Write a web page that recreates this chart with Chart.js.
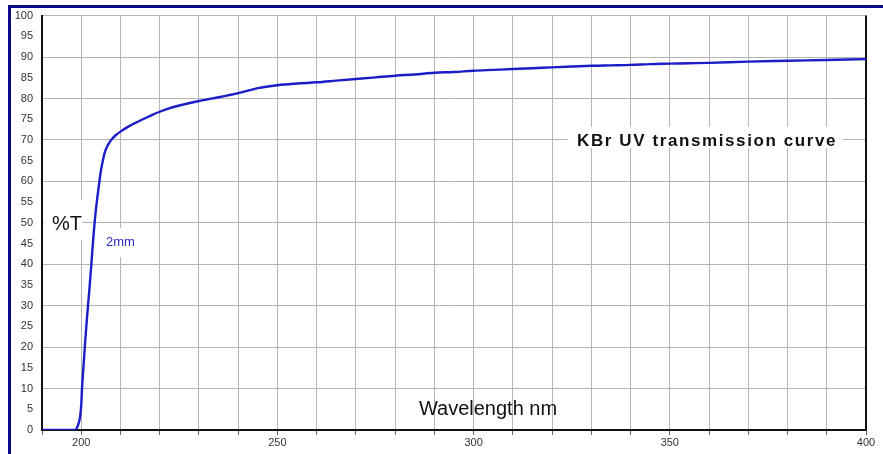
<!DOCTYPE html>
<html>
<head>
<meta charset="utf-8">
<script src="https://cdn.jsdelivr.net/npm/chart.js@4"></script>
<style>
  html, body { margin: 0; padding: 0; background: #fff; }
  #wrap { width: 883px; height: 454px; position: relative; }
</style>
</head>
<body>
<div id="wrap"><canvas id="kbrChart"></canvas></div>
<script>
// KBr UV transmission, 2mm thick
const wavelength = [190, 196, 198.4, 199, 199.5, 199.7, 200, 200.2, 200.5, 201, 201.5, 202, 202.5, 203, 203.5, 204, 204.5, 205,
  205.5, 206, 206.5, 207, 208, 209, 210, 212, 214, 216, 218, 220, 222, 225, 230, 235, 240, 243, 245, 250, 255,
  260, 265, 270, 275, 280, 285, 290, 295, 300, 305, 310, 315, 320, 325, 330, 335, 340, 345, 350, 355, 360,
  370, 380, 390, 400];
const transmission = [0, 0, 0, 0.7, 2.2, 3.2, 6, 10, 14.3, 21.3, 27.5, 33, 39, 45.5, 51, 55.3, 59, 62.5,
  65, 67, 68.2, 69.1, 70.4, 71.3, 72, 73.2, 74.2, 75.1, 76, 76.8, 77.5, 78.3, 79.4, 80.3, 81.3, 82, 82.5, 83.2, 83.6,
  83.9, 84.3, 84.7, 85.1, 85.5, 85.8, 86.2, 86.4, 86.7, 86.9, 87.1, 87.3, 87.5, 87.7, 87.9, 88.0, 88.1, 88.3, 88.4, 88.5, 88.6,
  88.9, 89.1, 89.3, 89.5];
const xLabels = [200, 250, 300, 350, 400];

const FONT = '"Liberation Sans", Arial, sans-serif';

// frame, right axis line and the text boxes
const decorPlugin = {
  id: "decor",
  beforeDatasetsDraw(chart) {
    const ctx = chart.ctx;
    const area = chart.chartArea;
    ctx.save();
    ctx.fillStyle = "#fff";
    ctx.fillRect(44, 200, 38, 40);   // %T
    ctx.fillRect(100, 228, 40, 29);  // 2mm
    ctx.fillRect(568, 127, 275, 21); // title
    ctx.strokeStyle = "#111";
    ctx.lineWidth = 2;
    ctx.beginPath();
    ctx.moveTo(area.right, area.top);
    ctx.lineTo(area.right, area.bottom + 1);
    ctx.stroke();
    ctx.restore();
  },
  afterDraw(chart) {
    const ctx = chart.ctx;
    ctx.save();
    ctx.strokeStyle = "#0c0c8a";
    ctx.lineWidth = 3;
    ctx.beginPath();
    ctx.moveTo(9.5, 454);
    ctx.lineTo(9.5, 6.5);
    ctx.lineTo(883, 6.5);
    ctx.stroke();

    ctx.fillStyle = "#111";
    ctx.textBaseline = "alphabetic";
    ctx.font = "20px " + FONT;
    ctx.textAlign = "left";
    ctx.fillText("%T", 52, 230);
    ctx.textAlign = "center";
    ctx.fillText("Wavelength nm", 488, 415);

    ctx.font = "bold 17px " + FONT;
    ctx.letterSpacing = "1.6px";
    ctx.textAlign = "left";
    ctx.fillText("KBr UV transmission curve", 577, 146);
    ctx.letterSpacing = "0px";

    ctx.fillStyle = "#2a2ab8";
    ctx.font = "13px " + FONT;
    ctx.fillText("2mm", 106, 246);
    ctx.restore();
  }
};

const points = wavelength.map((w, i) => ({ x: w, y: transmission[i] }));

new Chart(document.getElementById("kbrChart"), {
  type: "line",
  data: {
    datasets: [{
      data: points,
      borderColor: "#1c1cc8",
      borderWidth: 2.4,
      pointRadius: 0,
      fill: false,
      cubicInterpolationMode: "monotone"
    }]
  },
  options: {
    responsive: true,
    maintainAspectRatio: false,
    animation: false,
    layout: { padding: { top: 15, right: 17, left: 0, bottom: 0 } },
    plugins: { legend: { display: false }, tooltip: { enabled: false } },
    scales: {
      x: {
        type: "linear",
        min: 190,
        max: 400,
        afterFit: (scale) => { scale.height = 24; },
        ticks: {
          stepSize: 10,
          autoSkip: false,
          maxRotation: 0,
          padding: 1,
          color: "#333",
          font: { family: FONT, size: 11 },
          callback: (v) => (xLabels.includes(v) ? String(v) : "")
        },
        grid: {
          color: "#b4b4b4",
          lineWidth: 1,
          tickLength: 5,
          tickColor: "#666"
        },
        border: { color: "#111", width: 2 }
      },
      y: {
        min: 0,
        max: 100,
        afterFit: (scale) => { scale.width = 42; },
        ticks: {
          stepSize: 5,
          padding: 9,
          color: "#333",
          font: { family: FONT, size: 11 }
        },
        grid: {
          drawTicks: false,
          color: (c) => (c.tick && c.tick.value % 10 === 0 ? "#b4b4b4" : "rgba(0,0,0,0)"),
          lineWidth: 1
        },
        border: { color: "#111", width: 2 }
      }
    }
  },
  plugins: [decorPlugin]
});
</script>
</body>
</html>
